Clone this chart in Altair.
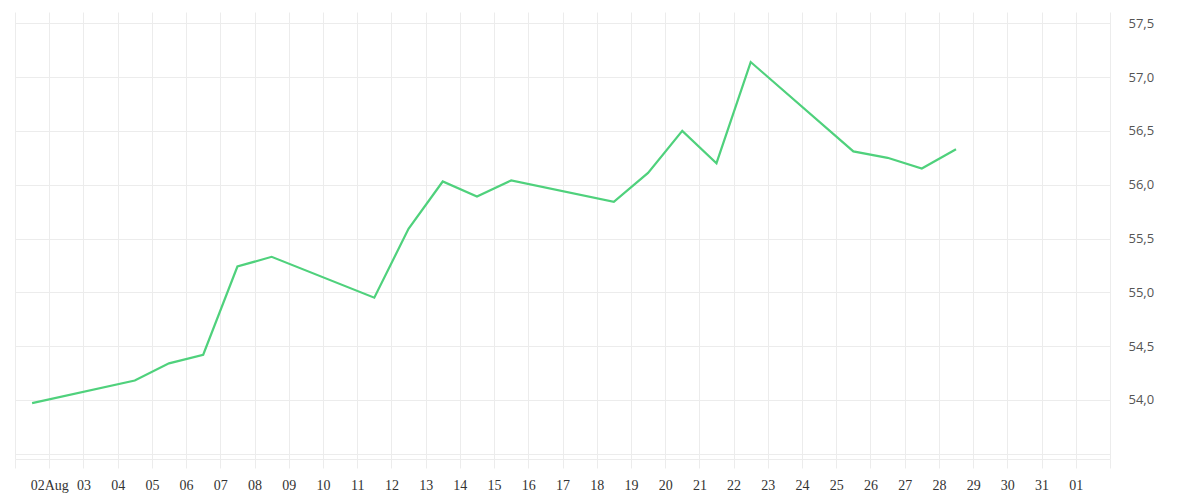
import json
import altair as alt
import pandas as pd

# ---- data ----
dates = [
    "2019-08-02", "2019-08-05", "2019-08-06", "2019-08-07", "2019-08-08", "2019-08-09",
    "2019-08-12", "2019-08-13", "2019-08-14", "2019-08-15", "2019-08-16",
    "2019-08-19", "2019-08-20", "2019-08-21", "2019-08-22", "2019-08-23",
    "2019-08-26", "2019-08-27", "2019-08-28", "2019-08-29",
]
values = [
    53.97, 54.18, 54.34, 54.42, 55.24, 55.33,
    54.95, 55.59, 56.03, 55.89, 56.04,
    55.84, 56.11, 56.50, 56.20, 57.14,
    56.31, 56.25, 56.15, 56.33,
]
# x tick labels (one per gridline, gridlines at midday)
x_tick_labels = [""] + ["02Aug"] + ["%02d" % d for d in range(3, 32)] + ["01", ""]
y_tick_values = [53.5, 54.0, 54.5, 55.0, 55.5, 56.0, 56.5, 57.0, 57.5]

df = pd.DataFrame({"date": dates, "value": values})

t0 = int(pd.Timestamp("2019-08-01 12:00", tz="UTC").value // 10**6)
day = 86400000
x_tick_values = [t0 + i * day for i in range(len(x_tick_labels))]

GRID = "#ececec"
label_expr_x = "%s[round((datum.value - %d) / %d)]" % (json.dumps(x_tick_labels), t0, day)

chart = (
    alt.Chart(df)
    .mark_line(color="#4fd17c", strokeWidth=2.2)
    .encode(
        x=alt.X(
            "date:T",
            scale=alt.Scale(type="utc", domain=[x_tick_values[0], x_tick_values[-1]]),
            axis=alt.Axis(
                title=None,
                values=x_tick_values,
                labelExpr=label_expr_x,
                grid=True,
                gridColor=GRID,
                gridWidth=1,
                domain=True,
                domainColor=GRID,
                domainWidth=1,
                ticks=True,
                tickColor=GRID,
                tickSize=9,
                labelPadding=10,
                labelFont="Liberation Serif",
                labelFontSize=14,
                labelColor="#333333",
                labelAlign="center",
                labelOverlap=False,
                labelFlush=False,
            ),
        ),
        y=alt.Y(
            "value:Q",
            scale=alt.Scale(domain=[53.451, 57.605], zero=False, nice=False),
            axis=alt.Axis(
                title=None,
                orient="right",
                values=y_tick_values,
                labelExpr="datum.value < 53.9 ? '' : replace(format(datum.value, '.1f'), '.', ',')",
                grid=True,
                gridColor=GRID,
                gridWidth=1,
                domain=False,
                ticks=False,
                labelPadding=18,
                labelFont="Open Sans",
                labelFontSize=13,
                labelColor="#555555",
                labelAlign="left",
                labelBaseline="middle",
                labelOverlap=False,
                labelFlush=False,
            ),
        ),
    )
    .properties(
        width=1095,
        height=447,
        autosize=alt.AutoSizeParams(type="none"),
        padding={"left": 7, "top": 4, "right": 70, "bottom": 40},
    )
    .configure_view(stroke=None)
)

chart.save("out.html", embed_options={"renderer": "svg", "actions": False})
